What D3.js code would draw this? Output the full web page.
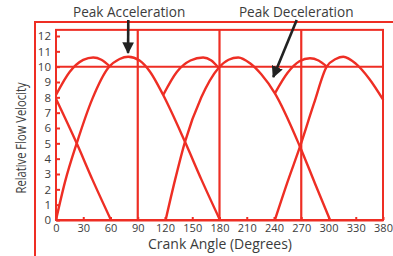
<!DOCTYPE html>
<html>
<head>
<meta charset="utf-8">
<script src="https://cdn.jsdelivr.net/npm/d3@7"></script>
<style>
body { margin: 0; background: #fff; }
text { font-family: "Open Sans", sans-serif; fill: #3c3c3c; }
</style>
</head>
<body>
<svg id="chart" width="393" height="256"></svg>
<script>

// tick values and labels (the last label reads 380 in the original)
var xTicks = [0, 30, 60, 90, 120, 150, 180, 210, 240, 270, 300, 330, 360];
var xTickLabels = ["0", "30", "60", "90", "120", "150", "180", "210", "240", "270", "300", "330", "380"];
var yTicks = [0, 1, 2, 3, 4, 5, 6, 7, 8, 9, 10, 11, 12];

// piston flow humps [angle, velocity]
var hump1 = [[0, 0], [10, 2.5], [22.8, 5.0], [40, 7.9], [57.6, 9.93], [70, 10.5], [79.6, 10.65],
             [92, 10.4], [103.5, 9.67], [118, 8.15], [142, 5.1], [160, 2.65], [180.5, 0]];
var hump2 = [[120.7, 0], [131, 2.6], [142, 5.1], [160, 8.0], [178.7, 9.9], [190, 10.45], [200.7, 10.6],
             [213.6, 10.22], [226, 9.5], [241, 8.26], [268.6, 4.78], [285, 2.4], [301.7, 0]];
var hump3 = [[241, 0], [255, 2.5], [268.6, 4.78], [284, 7.6], [298, 10.0], [308, 10.5], [316.3, 10.65],
             [330, 10.2], [345, 9.2], [360.3, 7.83]];
var hump3Wrap = [[0, 7.9], [22.8, 5.0], [40, 2.65], [60.5, 0]];

// combined flow ripple arches
var ripple1 = [[0, 8.15], [15, 9.65], [30, 10.44], [41, 10.6], [50, 10.45], [59.5, 10.0]];
var ripple2 = [[118, 8.15], [133, 9.65], [148, 10.4], [162, 10.6], [171, 10.4], [178.7, 9.95]];
var ripple3 = [[241, 8.26], [255, 9.6], [268, 10.35], [279.6, 10.55], [289, 10.4], [298, 10.0]];

var curves = [hump1, hump2, hump3, hump3Wrap, ripple1, ripple2, ripple3];

var gridX = [90, 180, 270];
var refLevel = 10;
var yTop = 12.4;

var annotations = [
  {text: "Peak Acceleration", tail: [79.6, 13.05], tip: [79.3, 10.9], labelX: 80.5},
  {text: "Peak Deceleration", tail: [265, 13.05], tip: [239.2, 9.33], labelX: 264.5}
];

var red = "#ee2e24";

var svg = d3.select("#chart");

var x = d3.scaleLinear().domain([0, 360]).range([56, 383]);
var y = d3.scaleLinear().domain([0, 12]).range([220, 36]);

// outer frame
svg.append("path")
  .attr("d", "M35,256 L35,22 L393,22")
  .attr("fill", "none")
  .attr("stroke", red)
  .attr("stroke-width", 2);

// plot frame
svg.append("rect")
  .attr("x", x(0))
  .attr("y", y(yTop))
  .attr("width", x(360) - x(0))
  .attr("height", y(0) - y(yTop))
  .attr("fill", "none")
  .attr("stroke", red)
  .attr("stroke-width", 2);

// reference line at 10
svg.append("line")
  .attr("x1", x(0)).attr("x2", x(360))
  .attr("y1", y(refLevel)).attr("y2", y(refLevel))
  .attr("stroke", red)
  .attr("stroke-width", 2);

// vertical lines
svg.selectAll(".vline")
  .data(gridX)
  .enter().append("line")
  .attr("class", "vline")
  .attr("x1", function(d) { return x(d); })
  .attr("x2", function(d) { return x(d); })
  .attr("y1", y(0))
  .attr("y2", y(yTop))
  .attr("stroke", red)
  .attr("stroke-width", 2.2);

// axes
var xAxis = svg.append("g")
  .attr("transform", "translate(0," + y(0) + ")")
  .call(d3.axisBottom(x).tickValues(xTicks).tickSizeInner(-3).tickSizeOuter(0).tickPadding(6)
    .tickFormat(function(d, i) { return xTickLabels[i]; }));
xAxis.select(".domain").attr("stroke", red).attr("stroke-width", 2);
xAxis.selectAll(".tick line").attr("stroke", red).attr("stroke-width", 2);
xAxis.selectAll("text").attr("font-size", 11).attr("fill", "#3c3c3c").attr("dy", "0.55em");

var yAxis = svg.append("g")
  .attr("transform", "translate(" + x(0) + ",0)")
  .call(d3.axisLeft(y).tickValues(yTicks).tickSizeInner(-4).tickSizeOuter(0).tickPadding(5));
yAxis.select(".domain").remove();
yAxis.selectAll(".tick line").attr("stroke", red).attr("stroke-width", 2);
yAxis.selectAll("text").attr("font-size", 11.5).attr("fill", "#3c3c3c");

// curves
var line = d3.line()
  .x(function(d) { return x(d[0]); })
  .y(function(d) { return y(d[1]); })
  .curve(d3.curveMonotoneX);

svg.selectAll(".curve")
  .data(curves)
  .enter().append("path")
  .attr("class", "curve")
  .attr("d", line)
  .attr("fill", "none")
  .attr("stroke", red)
  .attr("stroke-width", 2.4)
  .attr("stroke-linejoin", "round");

// axis titles
svg.append("text")
  .attr("x", 220)
  .attr("y", 249)
  .attr("text-anchor", "middle")
  .attr("font-size", 14)
  .text("Crank Angle (Degrees)");

svg.append("text")
  .attr("transform", "translate(26," + 138 + ") rotate(-90)")
  .attr("text-anchor", "middle")
  .attr("font-size", 14)
  .attr("textLength", 111)
  .attr("lengthAdjust", "spacingAndGlyphs")
  .text("Relative Flow Velocity");

// annotations
svg.append("defs").append("marker")
  .attr("id", "head")
  .attr("viewBox", "0 0 10 10")
  .attr("refX", 9).attr("refY", 5)
  .attr("markerWidth", 4.5).attr("markerHeight", 4.5)
  .attr("markerUnits", "strokeWidth")
  .attr("orient", "auto")
  .append("path")
  .attr("d", "M0,0 L10,5 L0,10 Z")
  .attr("fill", "#222");

var ann = svg.selectAll(".ann")
  .data(annotations)
  .enter().append("g")
  .attr("class", "ann");

ann.append("line")
  .attr("x1", function(d) { return x(d.tail[0]); })
  .attr("y1", function(d) { return y(d.tail[1]); })
  .attr("x2", function(d) { return x(d.tip[0]); })
  .attr("y2", function(d) { return y(d.tip[1]); })
  .attr("stroke", "#222")
  .attr("stroke-width", 2.6)
  .attr("marker-end", "url(#head)");

ann.append("text")
  .attr("x", function(d) { return x(d.labelX); })
  .attr("y", 17)
  .attr("text-anchor", "middle")
  .attr("font-size", 13.6)
  .text(function(d) { return d.text; });

</script>
</body>
</html>
